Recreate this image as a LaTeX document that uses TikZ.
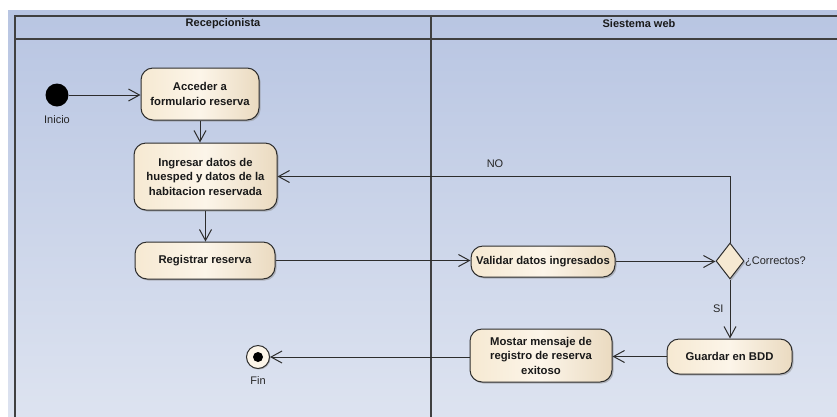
\documentclass[tikz,border=0pt]{standalone}
\usepackage{fontspec}
\setmainfont{Liberation Sans}
\usetikzlibrary{arrows.meta,shapes.geometric,shadows}
\definecolor{bgtop}{RGB}{184,197,226}
\definecolor{bgbot}{RGB}{221,227,240}
\definecolor{boxL}{RGB}{246,233,210}
\definecolor{boxM}{RGB}{252,245,233}
\definecolor{boxR}{RGB}{234,218,192}
\definecolor{lineC}{RGB}{45,45,45}
\tikzset{
  actbox/.style={draw=lineC, line width=1pt, rounded corners=12pt,
    left color=boxL, right color=boxR, middle color=boxM,
    font=\bfseries\fontsize{11.3}{14.5}\selectfont, text=black!90,
    align=center, inner sep=0pt,
    drop shadow={shadow xshift=1.5pt, shadow yshift=-1.5pt, fill=black!45, opacity=0.5}},
  flow/.style={draw=lineC, line width=1pt, -{Straight Barb[length=11pt,width=12pt,line width=1pt]}},
  lbl/.style={font=\fontsize{11}{13}\selectfont, text=black!85, inner sep=0pt},
  hdr/.style={font=\bfseries\fontsize{11}{12}\selectfont, text=black!90, inner sep=0pt},
  frame/.style={draw=black!75, line width=1.2pt}
}
\begin{document}
\begin{tikzpicture}[x=1pt,y=-1pt]
\useasboundingbox (0,0) rectangle (837,416);
\clip (0,0) rectangle (837,416);
\fill[white] (0,0) rectangle (837,416);
\shade[top color=bgtop, bottom color=bgbot] (8,10) rectangle (837,416);
% swimlane frame
\draw[frame] (15,430) -- (15,16) -- (850,16);
\draw[frame] (15,39) -- (850,39);
\draw[frame] (431,16) -- (431,430);
\node[hdr] (h1) at (223,24) {Recepcionista};
\node[hdr] (h2) at (639,24) {Siestema web};
% nodes
\node[circle, fill=black, minimum size=23pt, inner sep=0pt] (ini) at (57,95) {};
\node[lbl] (inilbl) at (57,120) {Inicio};
\node[actbox, minimum width=118pt, minimum height=52pt] (acc) at (200,94) {Acceder a\\formulario reserva};
\node[actbox, minimum width=143pt, minimum height=67pt] (ing) at (205.5,176.5) {Ingresar datos de\\huesped y datos de la\\habitacion reservada};
\node[actbox, minimum width=140pt, minimum height=37pt] (reg) at (205,260.5) {Registrar reserva};
\node[actbox, minimum width=144pt, minimum height=31pt] (val) at (543,261.5) {Validar datos ingresados};
\node[diamond, draw=lineC, line width=1pt, fill=boxL, minimum width=28pt, minimum height=36pt, inner sep=0pt,
  drop shadow={shadow xshift=1.5pt, shadow yshift=-1.5pt, fill=black!45, opacity=0.5}] (dia) at (730,261) {};
\node[lbl, anchor=west] (corr) at (745,262) {¿Correctos?};
\node[actbox, minimum width=125pt, minimum height=35pt] (gua) at (729.5,356.5) {Guardar en BDD};
\node[actbox, minimum width=142pt, minimum height=53pt] (mos) at (541,355.5) {Mostar mensaje de\\registro de reserva\\exitoso};
\node[circle, draw=lineC, line width=1pt, fill=boxM, minimum size=23pt, inner sep=0pt,
  drop shadow={shadow xshift=1pt, shadow yshift=-1pt, fill=black!45, opacity=0.5}] (fin) at (258,357) {};
\node[circle, fill=black, minimum size=10pt, inner sep=0pt] (findot) at (fin) {};
\node[lbl] (finlbl) at (258,381) {Fin};
% connectors
\draw[flow] (ini.east) -- (ini.east -| acc.west);
\draw[flow] (acc.south) -- (acc.south |- ing.north);
\draw[flow] (ing.south) -- (ing.south |- reg.north);
\draw[flow] (reg.east) -- (reg.east -| val.west);
\draw[flow] (val.east) -- (val.east -| dia.west);
\draw[flow] (dia.north) |- (ing.east);
\node[lbl] (no) at (495,164) {NO};
\draw[flow] (dia.south) -- (dia.south |- gua.north) node[lbl, midway, left=6pt] (si) {SI};
\draw[flow] (gua.west) -- (gua.west -| mos.east);
\draw[flow] (mos.west |- fin.east) -- (fin.east);
\end{tikzpicture}
\end{document}
